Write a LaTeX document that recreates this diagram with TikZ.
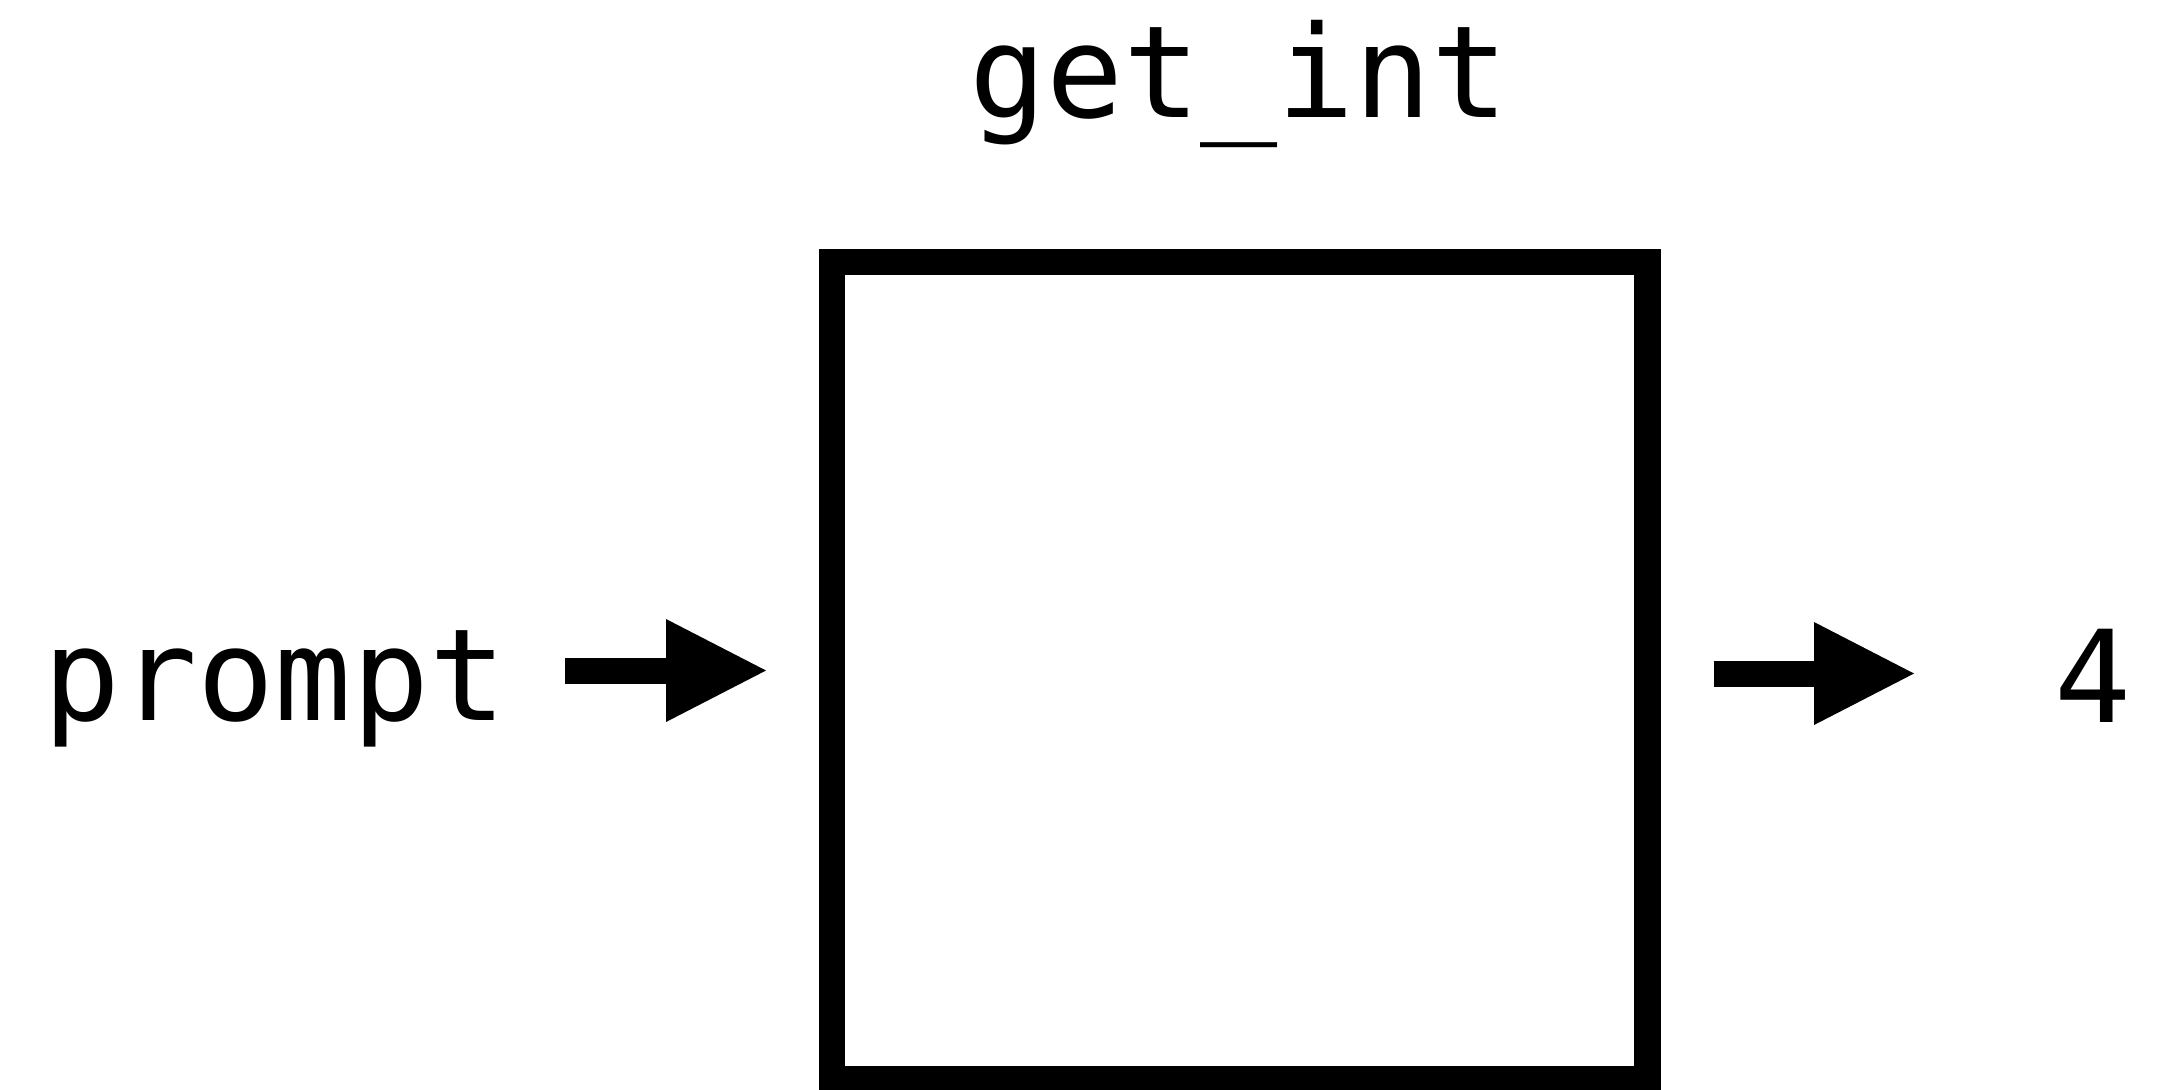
\documentclass[tikz,border=0pt]{standalone}
\usepackage{fontspec}
\setmonofont{DejaVu Sans Mono}
\usetikzlibrary{arrows.meta,calc}
\tikzset{
  lbl/.style={font=\ttfamily\fontsize{64}{76}\selectfont, inner sep=0pt, anchor=base},
  funcbox/.style={draw, line width=13.25pt, inner sep=0pt, outer sep=0pt,
    minimum width=407.75pt, minimum height=408.5pt},
  bigarrow/.style={line width=13pt, -{Triangle[length=50pt, width=51.5pt, line width=0pt]}}
}
\begin{document}
\begin{tikzpicture}[x=0.5pt, y=-0.5pt]
\useasboundingbox (0,0) rectangle (2183,1089);
\node[funcbox] (box) at (1239.75,670.5) {};
\node[lbl] (title) at (1239,117) {get\_int};
\node[lbl] (prompt) at (275,720) {prompt};
\node[lbl] (out) at (2093,722) {4};
\coordinate (inS) at ($(box.west)+(-267,0)$);
\coordinate (inE) at ($(box.west)+(-66,0)$);
\coordinate (outS) at ($(box.east)+(66,3)$);
\coordinate (outE) at ($(box.east)+(266.5,3)$);
\draw[bigarrow] (inS) -- (inE);
\draw[bigarrow] (outS) -- (outE);
\end{tikzpicture}
\end{document}
